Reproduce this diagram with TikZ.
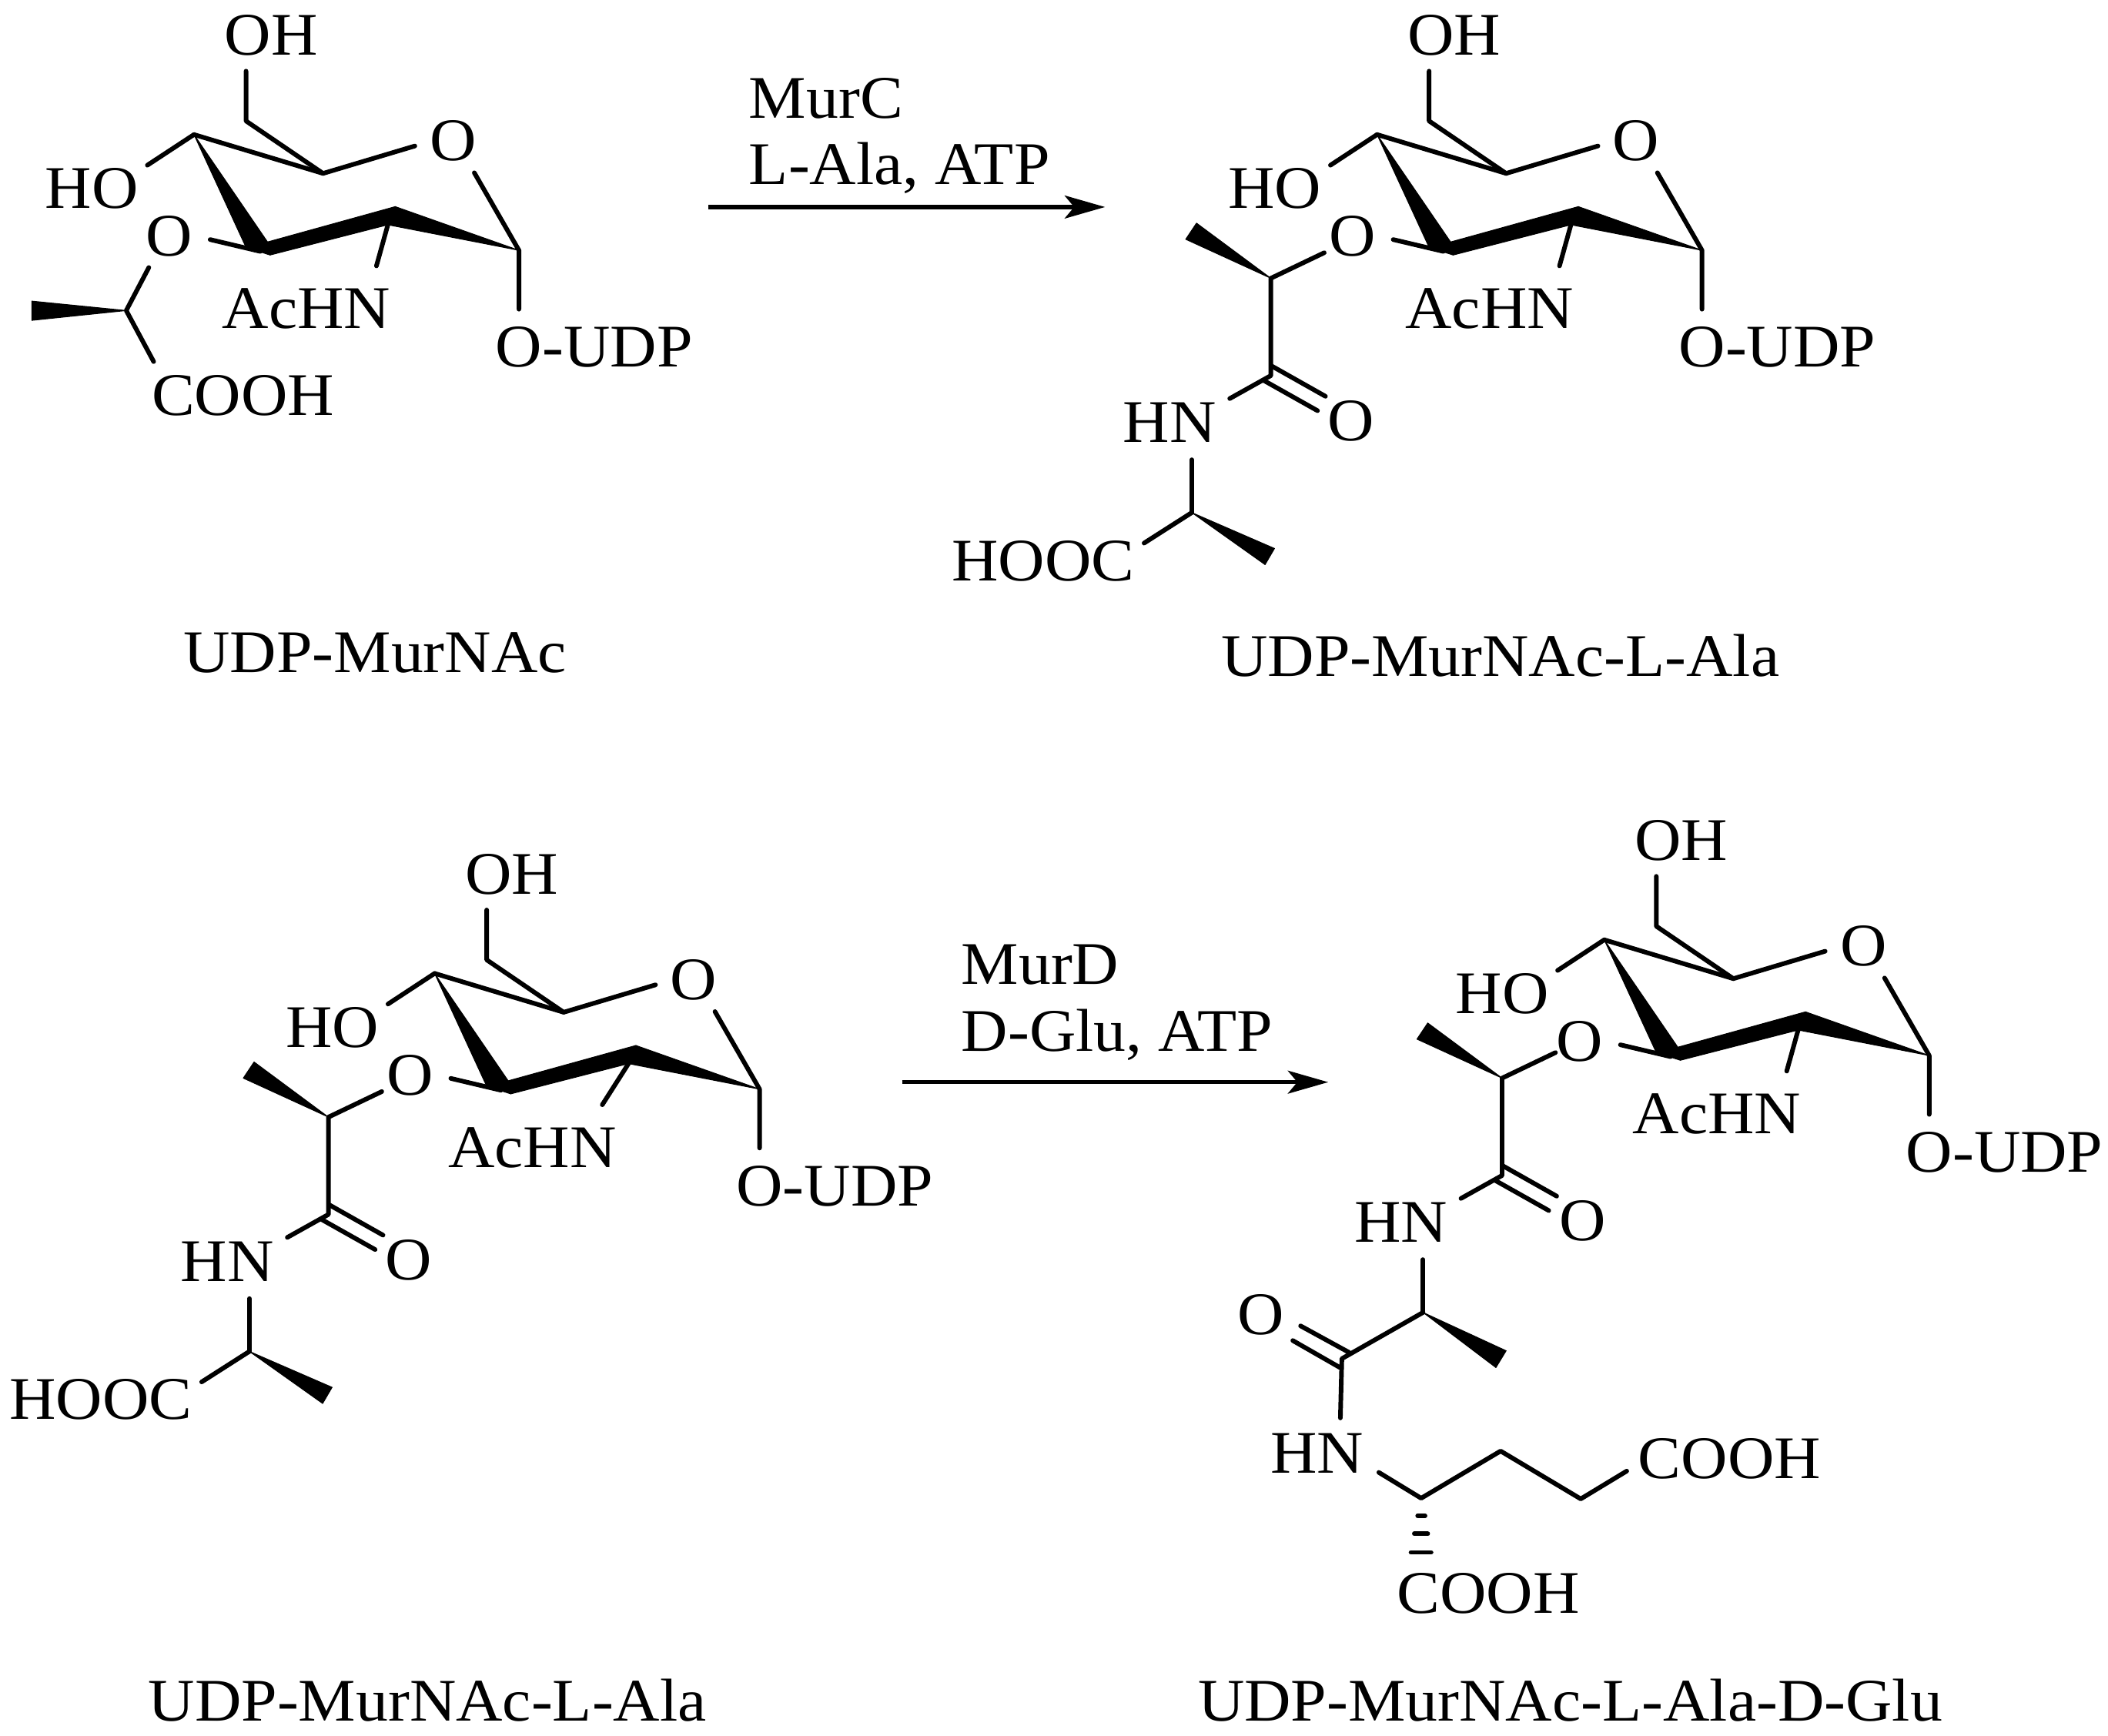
\documentclass[tikz,border=0pt]{standalone}
\usepackage{fontspec}
\setmainfont[FakeStretch=1.065]{Liberation Serif}
\usetikzlibrary{arrows.meta}
\tikzset{
  x=1pt,y=-1pt,
  bond/.style={line width=3.4pt,line cap=round,line join=round,black},
  wedgeb/.style={fill=black,draw=black,line width=0.6pt,line join=round},
  lab/.style={inner sep=0pt,anchor=base,font=\fontsize{45}{45}\selectfont,black},
  lableft/.style={lab,anchor=base west},
  rxn/.style={line width=3.2pt,black,-{Stealth[length=30pt,width=17pt,inset=7pt]}},
}
% sugar ring shared by all four molecules, drawn at molecule-1 position
% #2 = horizontal correction of the AcHN group
\newcommand{\sugarring}[2]{%
  \coordinate (#1c4) at (144.3,100.1);
  \coordinate (#1c5) at (240.3,129);
  \coordinate (#1c1) at (386,186.2);
  \coordinate (#1c2a) at (294,153.7);
  \coordinate (#1c2b) at (288.5,167.2);
  \coordinate (#1c3a) at (199,180);
  \coordinate (#1c3b) at (200.9,189.7);
  \coordinate (#1c3c) at (183,184);
  \coordinate (#1c6) at (183,90);
  \coordinate (#1oh) at (183,52.9);
  \coordinate (#1oa) at (308.6,108.6);
  \coordinate (#1ob) at (352.8,128.5);
  \coordinate (#1hoe) at (109.6,122.9);
  \coordinate (#1o3e) at (156.3,178.2);
  \coordinate (#1o3f) at (193.6,187);
  \coordinate (#1ne) at (280+#2,197.8);
  \coordinate (#1oe) at (386,230);
  \node[lab] (#1tOH) at (201.6,41) {OH};
  \node[lab] (#1tO) at (337,119.5) {O};
  \node[lab] (#1tHO) at (68.3,155) {HO};
  \node[lab] (#1tO3) at (126,190.5) {O};
  \node[lab] (#1tAc) at (228+#2,244.5) {AcHN};
  \node[lab] (#1tUDP) at (442,273) {O-UDP};
  \draw[bond] (#1oh) -- (#1c6) -- (#1c5);
  \draw[bond] (#1c4) -- (#1c5) -- (#1oa);
  \draw[bond] (#1ob) -- (#1c1) -- (#1oe);
  \draw[bond] (#1c4) -- (#1hoe);
  \draw[bond] (#1o3e) -- (#1o3f);
  \draw[bond] (#1c2b) -- (#1ne);
  \fill[wedgeb] (#1c1) -- (#1c2a) -- (#1c2b) -- cycle;
  \fill[wedgeb] (#1c2a) -- (#1c3a) -- (#1c3b) -- (#1c2b) -- cycle;
  \fill[wedgeb] (#1c4) -- (#1c3a) -- (#1c3b) -- (#1c3c) -- cycle;
}
% lactyl-amide fragment, drawn at molecule-2 position
\newcommand{\amidechain}[1]{%
  \coordinate (#1ch) at (945.3,207);
  \coordinate (#1oe) at (985,188);
  \coordinate (#1ma) at (890,166);
  \coordinate (#1mb) at (882,178);
  \coordinate (#1co) at (945.3,279.4);
  \coordinate (#1d1) at (946,272.3);
  \coordinate (#1d2) at (985.9,294.8);
  \coordinate (#1d3) at (940,283);
  \coordinate (#1d4) at (980,305.5);
  \coordinate (#1ne) at (914.7,296.5);
  \coordinate (#1ns) at (886.5,342);
  \coordinate (#1cb) at (886.5,381.3);
  \node[lab] (#1tO) at (1005,328) {O};
  \node[lab] (#1tHN) at (870,329) {HN};
  \draw[bond] (#1oe) -- (#1ch) -- (#1co) -- (#1ne);
  \draw[bond] (#1d1) -- (#1d2);
  \draw[bond] (#1d3) -- (#1d4);
  \draw[bond] (#1ns) -- (#1cb);
  \fill[wedgeb] (#1ch) -- (#1ma) -- (#1mb) -- cycle;
}
% alanine terminus, drawn at molecule-2 position
\newcommand{\alaend}[1]{%
  \coordinate (#1c) at (886.5,381.3);
  \coordinate (#1ma) at (948,408);
  \coordinate (#1mb) at (941,420);
  \coordinate (#1hc) at (851,404);
  \node[lab] (#1tH) at (776,432) {HOOC};
  \draw[bond] (#1c) -- (#1hc);
  \fill[wedgeb] (#1c) -- (#1ma) -- (#1mb) -- cycle;
}
\begin{document}
\begin{tikzpicture}
\useasboundingbox (0,0) rectangle (1568,1291);
% molecule 1
\sugarring{a}{0}
\coordinate (aso) at (110.7,199);
\coordinate (asc) at (93.9,231);
\coordinate (ascc) at (114.3,269);
\coordinate (asm1) at (23.7,224);
\coordinate (asm2) at (23.7,238.3);
\node[lab] (atCOOH) at (180.8,309) {COOH};
\draw[bond] (aso) -- (asc) -- (ascc);
\fill[wedgeb] (asc) -- (asm1) -- (asm2) -- cycle;
\node[lab] (capa) at (279,500) {UDP-MurNAc};
% molecule 2
\begin{scope}[shift={(880,0)}]\sugarring{b}{0}\end{scope}
\amidechain{bc}
\alaend{be}
\node[lab] (capb) at (1116,503) {UDP-MurNAc-L-Ala};
% molecule 3
\begin{scope}[shift={(179,624)}]\sugarring{c}{-11}\end{scope}
\begin{scope}[shift={(-701,624)}]\amidechain{cc}\alaend{ce}\end{scope}
\node[lab] (capc) at (318,1280) {UDP-MurNAc-L-Ala};
% molecule 4
\begin{scope}[shift={(1049,599)}]\sugarring{d}{0}\end{scope}
\begin{scope}[shift={(172,595)}]\amidechain{dc}\end{scope}
\coordinate (dch) at (1058.5,976.3);
\coordinate (dw1) at (1120.3,1004.8);
\coordinate (dw2) at (1112.7,1017.3);
\coordinate (dco) at (998.1,1010.7);
\coordinate (dd1) at (967.4,986.3);
\coordinate (dd2) at (1003.4,1006);
\coordinate (dd3) at (961.6,997.2);
\coordinate (dd4) at (996.7,1017.3);
\coordinate (dn) at (997,1054.8);
\coordinate (dne) at (1025.6,1095.3);
\coordinate (dca) at (1057.1,1114.5);
\coordinate (dcb) at (1116.2,1079.4);
\coordinate (dcg) at (1175.8,1115);
\coordinate (dce) at (1210,1094.3);
\node[lab] (dtO) at (938,993) {O};
\node[lab] (dtHN) at (979.7,1096) {HN};
\node[lab] (dtC1) at (1286.5,1100) {COOH};
\node[lab] (dtC2) at (1107,1200) {COOH};
\draw[bond] (dch) -- (dco) -- (dn);
\draw[bond] (dd1) -- (dd2);
\draw[bond] (dd3) -- (dd4);
\draw[bond] (dne) -- (dca) -- (dcb) -- (dcg) -- (dce);
\fill[wedgeb] (dch) -- (dw1) -- (dw2) -- cycle;
\draw[bond] (1054.5,1127.5) coordinate (h1a) -- (1060,1127.5) coordinate (h1b);
\draw[bond] (1052,1141) coordinate (h2a) -- (1062,1141) coordinate (h2b);
\draw[bond] (1049.5,1154.8) coordinate (h3a) -- (1064.5,1154.8) coordinate (h3b);
\node[lab] (capd) at (1168,1280) {UDP-MurNAc-L-Ala-D-Glu};
% reactions
\coordinate (r1a) at (527,154);
\coordinate (r1b) at (822,154);
\coordinate (r2a) at (671,805);
\coordinate (r2b) at (988,805);
\draw[rxn] (r1a) -- (r1b);
\draw[rxn] (r2a) -- (r2b);
\node[lableft] (t1) at (557,88) {MurC};
\node[lableft] (t2) at (557,137) {L-Ala, ATP};
\node[lableft] (t3) at (715,732) {MurD};
\node[lableft] (t4) at (715,782) {D-Glu, ATP};
\end{tikzpicture}
\end{document}
